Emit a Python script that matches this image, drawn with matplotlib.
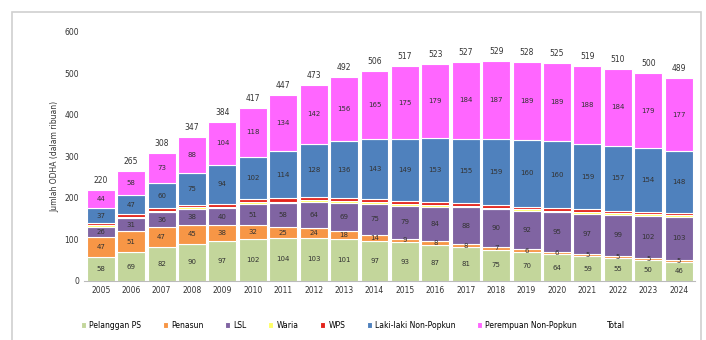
import numpy as np
import matplotlib.pyplot as plt
from matplotlib.patches import Rectangle
from matplotlib.lines import Line2D

# Data (jumlah ODHA, ribuan)
years = [str(y) for y in range(2005, 2025)]
pelanggan_ps = [58, 69, 82, 90, 97, 102, 104, 103, 101, 97, 93, 87, 81, 75, 70, 64, 59, 55, 50, 46]
penasun = [47, 51, 47, 45, 38, 32, 25, 24, 18, 14, 9, 8, 8, 7, 6, 6, 5, 5, 5, 5]
lsl = [26, 31, 36, 38, 40, 51, 58, 64, 69, 75, 79, 84, 88, 90, 92, 95, 97, 99, 102, 103]
waria = [3, 3, 4, 4, 4, 4, 4, 4, 4, 4, 4, 4, 4, 4, 4, 4, 4, 4, 4, 4]
wps = [5, 6, 6, 7, 7, 8, 8, 8, 8, 8, 8, 8, 7, 7, 7, 7, 7, 6, 6, 6]
laki_non = [37, 47, 60, 75, 94, 102, 114, 128, 136, 143, 149, 153, 155, 159, 160, 160, 159, 157, 154, 148]
perempuan_non = [44, 58, 73, 88, 104, 118, 134, 142, 156, 165, 175, 179, 184, 187, 189, 189, 188, 184, 179, 177]
total = [220, 265, 308, 347, 384, 417, 447, 473, 492, 506, 517, 523, 527, 529, 528, 525, 519, 510, 500, 489]

series = [
    ("Pelanggan PS", pelanggan_ps, "#C3D69B", True),
    ("Penasun", penasun, "#F79646", True),
    ("LSL", lsl, "#8064A2", True),
    ("Waria", waria, "#FFFF66", False),
    ("WPS", wps, "#E3231B", False),
    ("Laki-laki Non-Popkun", laki_non, "#4F81BD", True),
    ("Perempuan Non-Popkun", perempuan_non, "#FF66FF", True),
]

fig = plt.figure(figsize=(7.06, 3.4), dpi=100)
# frame of the chart area
fig.patches.append(Rectangle((12 / 706, -0.05), 689 / 706, 1.05 - 12 / 340,
                             transform=fig.transFigure, fill=False,
                             edgecolor="#D0D0D0", linewidth=1.2))
ax = fig.add_axes([0.119, 0.174, 0.866, 0.732])

x = np.arange(len(years))
bottom = np.zeros(len(years))
handles = []
for name, vals, col, show in series:
    bars = ax.bar(x, vals, 0.92, bottom=bottom, color=col, edgecolor="white",
                  linewidth=0.8, label=name)
    if show:
        ax.bar_label(bars, labels=[str(v) for v in vals], label_type="center",
                     fontsize=5, color="#333333")
    bottom += np.array(vals)
    handles.append(bars)

# Total (labels only)
for xi, t in zip(x, total):
    ax.text(xi, t + 12, str(t), ha="center", va="bottom", fontsize=5.5, color="#333333")
handles.append(Line2D([], [], color="none", label="Total"))

ax.set_xlim(-0.55, len(years) - 0.45)
ax.set_ylim(0, 600)
ax.set_yticks(range(0, 601, 100))
ax.set_xticks(x)
ax.set_xticklabels(years)
ax.tick_params(axis="both", labelsize=5.5, length=0, colors="#333333")
for s in ["top", "right", "left"]:
    ax.spines[s].set_visible(False)
ax.spines["bottom"].set_color("#BBBBBB")
ax.set_ylabel("Jumlah ODHA (dalam ribuan)", fontsize=5.5, color="#333333")

fig.legend(handles=handles, loc="lower center", bbox_to_anchor=(0.5, 0.01), ncol=8,
           frameon=False, fontsize=5.5, handlelength=0.7, handleheight=0.7,
           columnspacing=2.8, handletextpad=0.4)

plt.savefig("out.png", dpi=100)
